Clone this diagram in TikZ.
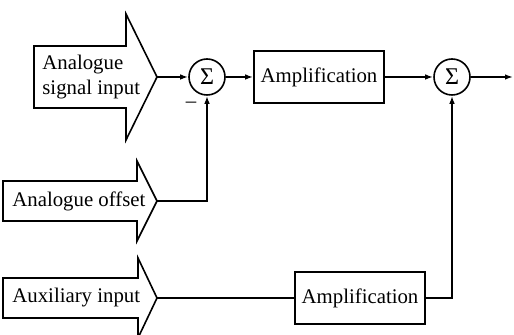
\documentclass[tikz,border=0pt]{standalone}
\usepackage{fontspec}
\setmainfont{Liberation Serif}
\usetikzlibrary{arrows.meta}
\tikzset{
	blk/.style={draw, thick, minimum width=65pt, minimum height=26pt, inner sep=1pt},
	sumc/.style={draw, thick, circle, minimum size=18pt, inner sep=0pt, font=\fontsize{12}{14}\selectfont},
	lbl/.style={anchor=west, align=left, inner sep=0pt},
	>={Latex[length=4pt,width=2.8pt]}
}
\begin{document}
\begin{tikzpicture}[x=0.5pt, y=-0.5pt, font=\fontsize{10.4}{12.5}\selectfont]
	\useasboundingbox (0,0) rectangle (514,335);
	% input arrows
	\draw[thick] (34,46) -- (126,46) -- (126,14) -- (157,77) -- (126,140) -- (126,108) -- (34,108) -- cycle;
	\draw[thick] (3,181) -- (137,181) -- (137,161) -- (157,201) -- (137,241) -- (137,221) -- (3,221) -- cycle;
	\draw[thick] (3,278) -- (138,278) -- (138,258) -- (157,298) -- (138,338) -- (138,318) -- (3,318) -- cycle;
	\coordinate (sigtip) at (157,77);
	\coordinate (offtip) at (157,201);
	\coordinate (auxtip) at (157,298);
	\node[lbl] (siglbl) at (42,77) {Analogue\\signal input};
	\node[lbl] (offlbl) at (12,201) {Analogue offset};
	\node[lbl] (auxlbl) at (12,298) {Auxiliary input};
	% blocks
	\node[sumc] (sum1) at (207,77) {Σ};
	\node (minus) at (191,105) {–};
	\node[blk] (amp1) at (319,77) {Amplification};
	\node[sumc] (sum2) at (452,77) {Σ};
	\coordinate (out) at (513,77);
	\node[blk] (amp2) at (360,298) {Amplification};
	% connections
	\draw[thick, ->] (sigtip) -- (sum1);
	\draw[thick, ->] (sum1) -- (amp1);
	\draw[thick, ->] (amp1) -- (sum2);
	\draw[thick, ->] (sum2) -- (out);
	\draw[thick, ->] (offtip) -| (sum1);
	\draw[thick] (auxtip) -- (amp2);
	\draw[thick, ->] (amp2) -| (sum2);
\end{tikzpicture}
\end{document}
